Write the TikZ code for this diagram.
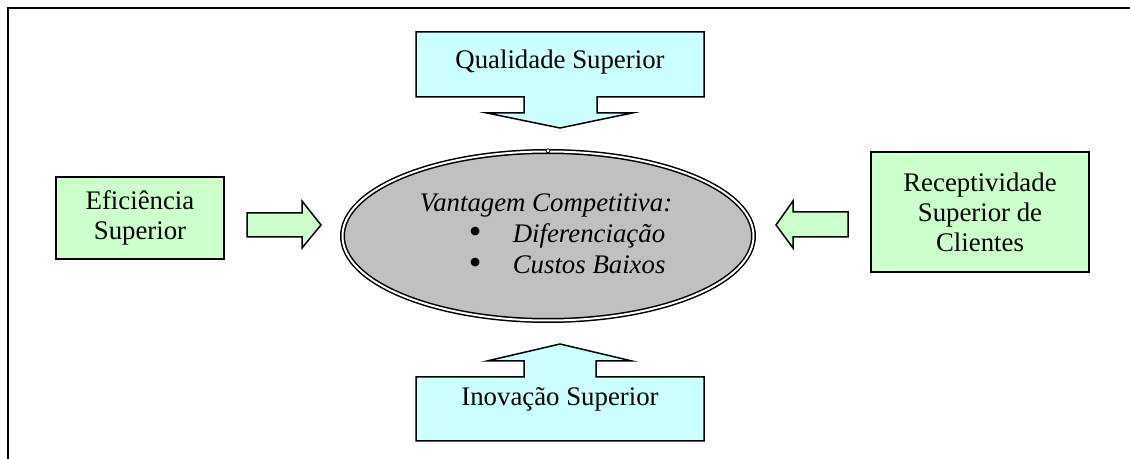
\documentclass[tikz,border=0pt]{standalone}
\usepackage{fontspec}
\usepackage{graphicx}
\setmainfont{Liberation Serif}
\usetikzlibrary{shapes.geometric}
\definecolor{paleblue}{HTML}{CCFFFF}
\definecolor{palegreen}{HTML}{CCFFCC}
\definecolor{ovalgray}{HTML}{C0C0C0}
\newcommand{\bigbullet}{\upshape\raisebox{-0.4pt}{\scalebox{1.35}{\textbullet}}}
\begin{document}
\begin{tikzpicture}[x=0.5pt, y=-0.5pt,
    every node/.style={font=\fontsize{13.4}{15}\selectfont},
    greenbox/.style={draw, line width=0.75pt, fill=palegreen, align=center, inner sep=0pt},
    callout/.style={draw, line width=0.75pt, fill=paleblue},
    fatarrow/.style={draw, line width=0.75pt, fill=palegreen}]
  \useasboundingbox (0,0) rectangle (1130,459);
  % frame (only top and left edges show)
  \draw[line width=1pt] (8,459) -- (8,8.5) -- (1130,8.5);

  % central oval
  \node[ellipse, draw, line width=0.75pt, double, double distance=1pt, fill=ovalgray,
        minimum width=205.5pt, minimum height=84.5pt] (vant) at (548,236) {};
  \node[align=left, font={\fontsize{13.4}{15.5}\selectfont\itshape}] (vtxt) at (546,234)
    {Vantagem Competitiva:\\
     \hspace*{24.5pt}\makebox[22pt][l]{\bigbullet}Diferenciação\\
     \hspace*{24.5pt}\makebox[22pt][l]{\bigbullet}Custos Baixos};
  \node[circle, draw, fill=white, line width=0.4pt, inner sep=0pt, minimum size=2pt] (hdl) at (vant.north) {};

  % callouts top and bottom
  \filldraw[callout] (416,32) -- (704,32) -- (704,97) -- (597,97) -- (597,113) -- (632,113)
    -- (560,128) -- (487,113) -- (524,113) -- (524,97) -- (416,97) -- cycle;
  \node (qual) at (560,62) {Qualidade Superior};
  \filldraw[callout] (416,441) -- (704,441) -- (704,377) -- (596,377) -- (596,361) -- (632,361)
    -- (560,344) -- (487,361) -- (524,361) -- (524,377) -- (416,377) -- cycle;
  \node (inov) at (560,399) {Inovação Superior};

  % side boxes
  \node[greenbox, minimum width=84pt, minimum height=41pt] (eff) at (140,218) {Eficiência\\Superior};
  \node[greenbox, minimum width=109pt, minimum height=60pt] (resp) at (980,212) {Receptividade\\Superior de\\Clientes};

  % block arrows
  \filldraw[fatarrow] (247,213) -- (302,213) -- (302,201) -- (321,225) -- (302,248) -- (302,237) -- (247,237) -- cycle;
  \filldraw[fatarrow] (848,212) -- (793,212) -- (793,201) -- (776,225) -- (793,248) -- (793,237) -- (848,237) -- cycle;
\end{tikzpicture}
\end{document}
